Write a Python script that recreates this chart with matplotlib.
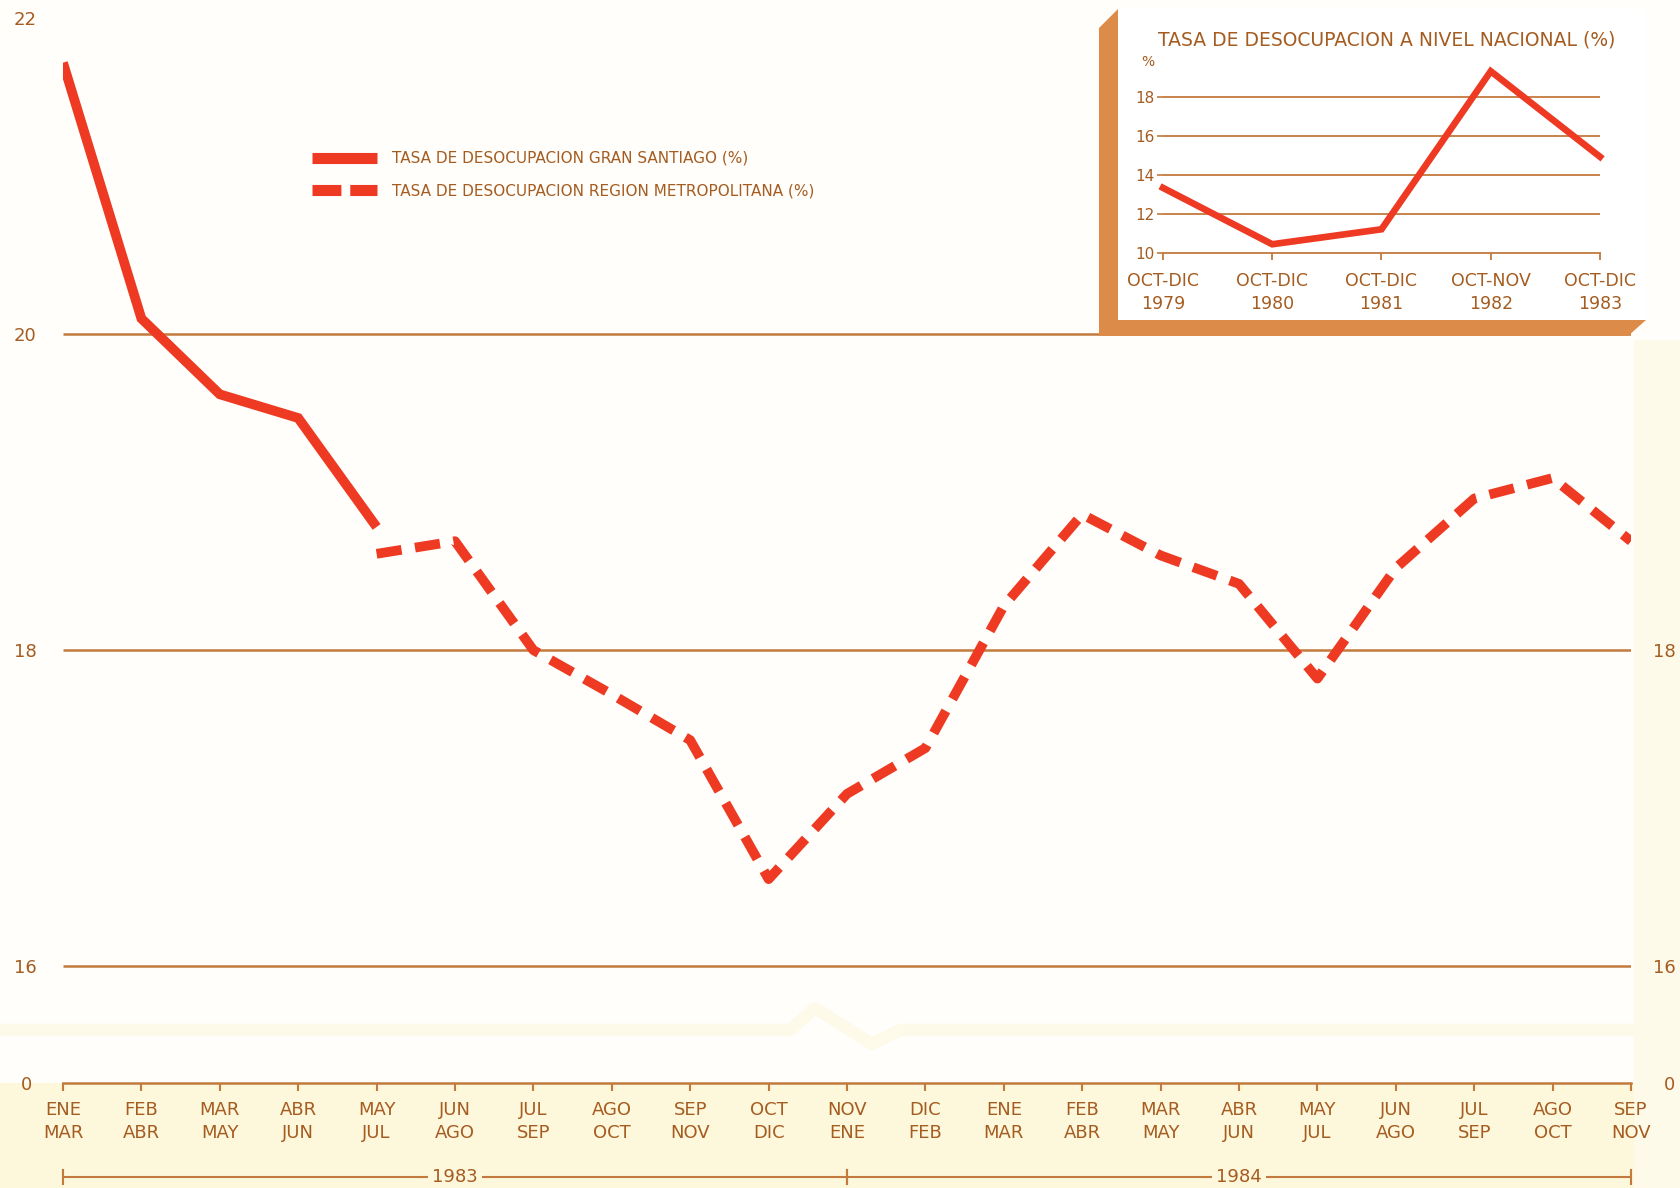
import matplotlib
matplotlib.use("Agg")
import matplotlib.pyplot as plt
from matplotlib.lines import Line2D
from matplotlib.patches import Polygon, Rectangle
import numpy as np

plt.rcParams['font.family'] = ['DejaVu Sans']

# periods (two line labels) on the main chart
period_top = ['ENE', 'FEB', 'MAR', 'ABR', 'MAY', 'JUN', 'JUL', 'AGO', 'SEP', 'OCT', 'NOV',
              'DIC', 'ENE', 'FEB', 'MAR', 'ABR', 'MAY', 'JUN', 'JUL', 'AGO', 'SEP']
period_bot = ['MAR', 'ABR', 'MAY', 'JUN', 'JUL', 'AGO', 'SEP', 'OCT', 'NOV', 'DIC', 'ENE',
              'FEB', 'MAR', 'ABR', 'MAY', 'JUN', 'JUL', 'AGO', 'SEP', 'OCT', 'NOV']

# tasa de desocupacion gran santiago (first 5 periods)
gran_santiago = [21.72, 20.10, 19.62, 19.47, 18.78]
# tasa de desocupacion region metropolitana (from MAY-JUL 1983 on)
region_metro = [18.61, 18.69, 18.00, 17.72, 17.43, 16.55, 17.09, 17.38, 18.28,
                18.86, 18.60, 18.42, 17.82, 18.52, 18.96, 19.09, 18.69]
metro_start = 4

grid_levels = [16, 18, 20]
left_ticks = [16, 18, 20, 22]
right_ticks = [16, 18]

years = ['1983', '1984']
year_spans = [(0, 10), (10, 20)]

# inset: tasa nacional
nac_labels = ['OCT-DIC\n1979', 'OCT-DIC\n1980', 'OCT-DIC\n1981', 'OCT-NOV\n1982', 'OCT-DIC\n1983']
nac_values = [13.35, 10.45, 11.22, 19.35, 14.95]
nac_ticks = [10, 12, 14, 16, 18]

RED = '#ee3a22'
TXT = '#a55c20'
GRID = '#c27a3d'
SHADOW = '#dc8b48'
PALE = '#fdf7dc'
BAND = '#fefaea'

W, H = 1681, 1188
fig = plt.figure(figsize=(W / 100, H / 100), dpi=100)
fig.patch.set_facecolor('#fffefb')


def fbox(x0, y0, x1, y1):
    # pixel box (top-left origin) -> figure fraction rect
    return [x0 / W, 1 - y1 / H, (x1 - x0) / W, (y1 - y0) / H]


# pale yellow background parts
fig.patches.append(Rectangle((0, 0), 1, 1 - 1083 / H, transform=fig.transFigure,
                             facecolor=PALE, edgecolor='none', zorder=-10))
fig.patches.append(Rectangle((1634 / W, 0), 1 - 1634 / W, 1 - 340 / H, transform=fig.transFigure,
                             facecolor=BAND, edgecolor='none', zorder=-10))

# main axes
ax = fig.add_axes(fbox(63, 0, 1631, 1020))
ax.set_facecolor('none')
x_all = np.arange(len(period_top))
ax.set_xlim(0, 20)
ax.set_ylim(15.658, 22.117)
ax.hlines(grid_levels, 0, 20, color=GRID, lw=1.8, zorder=1)

ax.plot(x_all[:len(gran_santiago)], gran_santiago, color=RED, lw=7,
        solid_capstyle='butt', solid_joinstyle='miter', zorder=3)
ax.plot(x_all[metro_start:], region_metro, color=RED, lw=7,
        dashes=(2.6, 1.4), dash_capstyle='butt', zorder=3)

for s in ax.spines.values():
    s.set_visible(False)
ax.set_xticks([])
ax.set_yticks(left_ticks)
ax.tick_params(axis='y', length=0, pad=19, labelsize=13, labelcolor=TXT)
axr = ax.twinx()
axr.set_ylim(ax.get_ylim())
axr.set_yticks(right_ticks)
axr.tick_params(axis='y', length=0, pad=16, labelsize=13, labelcolor=TXT)
for s in axr.spines.values():
    s.set_visible(False)

h1 = Line2D([], [], color=RED, lw=8, solid_capstyle='butt')
h2 = Line2D([], [], color=RED, lw=8, dashes=(2.6, 0.8), dash_capstyle='butt')
ax.legend([h1, h2], ['TASA DE DESOCUPACION GRAN SANTIAGO (%)',
                     'TASA DE DESOCUPACION REGION METROPOLITANA (%)'],
          loc='upper left', bbox_to_anchor=(0.1585, 0.852), frameon=False,
          fontsize=11, labelcolor=TXT, handlelength=4.3, handletextpad=0.95,
          labelspacing=1.15, borderpad=0, borderaxespad=0)

# break mark between 16 and 0
bx = np.array([0, 790, 815, 872, 900, W])
by = np.array([1030, 1030, 1008, 1044, 1030, 1030])
fig.lines.append(Line2D(bx / W, 1 - by / H, transform=fig.transFigure,
                        color=BAND, lw=9, zorder=-5))

# zero strip
ax0 = fig.add_axes(fbox(63, 1040, 1631, 1083))
ax0.set_facecolor('none')
ax0.set_xlim(0, 20)
ax0.set_ylim(0, 1)
for k in ['top', 'left', 'right']:
    ax0.spines[k].set_visible(False)
ax0.spines['bottom'].set_color(GRID)
ax0.spines['bottom'].set_linewidth(1.8)
ax0.set_xticks(x_all)
ax0.set_xticklabels([a + '\n' + b for a, b in zip(period_top, period_bot)],
                    linespacing=1.35)
ax0.tick_params(axis='x', direction='out', length=6, width=1.5, color=GRID,
                pad=7, labelsize=13, labelcolor=TXT)
ax0.set_yticks([0])
ax0.tick_params(axis='y', length=0, pad=22, labelsize=13, labelcolor=TXT)
ax0r = ax0.twinx()
ax0r.set_ylim(0, 1)
ax0r.set_yticks([0])
ax0r.tick_params(axis='y', length=0, pad=24, labelsize=13, labelcolor=TXT)
for s in ax0r.spines.values():
    s.set_visible(False)

# year brackets
tr = ax0.get_xaxis_transform()
yb = -2.19
for yr, (a, b) in zip(years, year_spans):
    ax0.plot([a, b], [yb, yb], color=GRID, lw=1.5, transform=tr, clip_on=False)
    ax0.plot([a, a], [yb - 0.17, yb + 0.17], color=GRID, lw=1.5, transform=tr, clip_on=False)
    ax0.plot([b, b], [yb - 0.17, yb + 0.17], color=GRID, lw=1.5, transform=tr, clip_on=False)
    ax0.text((a + b) / 2, yb, yr, transform=tr, ha='center', va='center', fontsize=13,
             color=TXT, bbox=dict(facecolor=PALE, edgecolor='none', pad=3))

# inset card
card = fig.add_axes(fbox(1099, 9, 1646, 336), zorder=2)
card.set_xlim(1099, 1646)
card.set_ylim(336, 9)
card.axis('off')
card.add_patch(Polygon([(1118, 9), (1099, 28), (1099, 336), (1628, 336), (1646, 320), (1118, 320)],
                       closed=True, facecolor=SHADOW, edgecolor='none'))
card.add_patch(Rectangle((1118, 9), 1646 - 1118, 320 - 9, facecolor='white', edgecolor='none'))
card.text(1387, 40, 'TASA DE DESOCUPACION A NIVEL NACIONAL (%)', ha='center', va='center',
          fontsize=13.5, color=TXT)

ax_in = fig.add_axes(fbox(1163, 58.6, 1600, 253), zorder=3)
ax_in.set_facecolor('none')
ax_in.set_xlim(0, len(nac_values) - 1)
ax_in.set_ylim(10, 20)
ax_in.hlines(nac_ticks[1:], 0, len(nac_values) - 1, color=GRID, lw=1.3)
ax_in.plot(range(len(nac_values)), nac_values, color=RED, lw=4.8,
           solid_joinstyle='miter', clip_on=False)
for k in ['top', 'left', 'right']:
    ax_in.spines[k].set_visible(False)
ax_in.spines['bottom'].set_color(GRID)
ax_in.spines['bottom'].set_linewidth(1.3)
ax_in.set_xticks(range(len(nac_values)))
ax_in.set_xticklabels(nac_labels, linespacing=1.3)
ax_in.tick_params(axis='x', direction='out', length=5, width=1.3, color=GRID,
                  pad=9, labelsize=12.5, labelcolor=TXT)
ax_in.set_yticks(nac_ticks)
ax_in.tick_params(axis='y', direction='out', length=4, width=1.2, color=GRID,
                  pad=2, labelsize=11, labelcolor=TXT)
ax_in.text(-0.02, 0.98, '%', transform=ax_in.transAxes, ha='right', va='center',
           fontsize=10, color=TXT)

fig.savefig('out.png', dpi=100, facecolor=fig.get_facecolor())
